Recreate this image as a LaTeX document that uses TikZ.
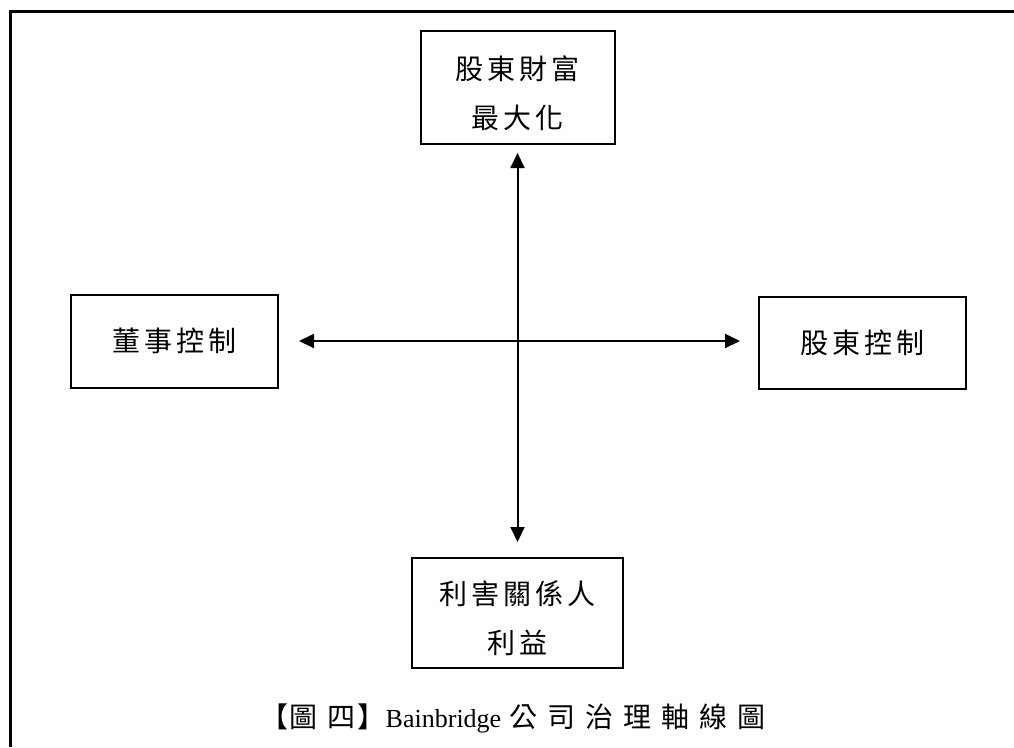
\documentclass[tikz,border=0pt]{standalone}
\usepackage{fontspec}
\setmainfont{Liberation Serif}
\newfontfamily\cjk{Noto Sans CJK TC}
\usetikzlibrary{arrows.meta}
\newcommand{\ls}{\kern4pt}
\newcommand{\cs}{\kern10pt}
\newcommand{\topstrut}{\rule{0pt}{35pt}}
\begin{document}
\begin{tikzpicture}[x=1pt,y=-1pt,
  box/.style={draw,line width=2pt,rectangle,inner sep=0pt,align=center,
    font=\cjk\fontsize{28}{49}\selectfont},
  biarrow/.style={line width=2pt,
    {Triangle[length=15pt,width=14pt]}-{Triangle[length=15pt,width=14pt]}},
  frameline/.style={line width=3pt}]
\useasboundingbox (0,0) rectangle (1014,747);
\fill[white] (0,0) rectangle (1014,747);
\draw[frameline] (10,747) -- (10,11) -- (1014,11);

\node[box,minimum width=194pt,minimum height=113pt] (top) at (517.5,87.5)
  {\topstrut 股\ls 東\ls 財\ls 富\\最\ls 大\ls 化};
\node[box,minimum width=207pt,minimum height=93pt] (left) at (174.5,341)
  {董\ls 事\ls 控\ls 制};
\node[box,minimum width=207pt,minimum height=92pt] (right) at (862.5,343)
  {股\ls 東\ls 控\ls 制};
\node[box,minimum width=211pt,minimum height=110pt] (bottom) at (517.5,613)
  {\topstrut 利\ls 害\ls 關\ls 係\ls 人\\利\ls 益};

\draw[biarrow,shorten <=8pt,shorten >=15pt] (top.south) -- (bottom.north);
\draw[biarrow,shorten <=20pt,shorten >=18pt] (left.east) -- (right.west |- left.east);

\node[inner sep=0pt] (cap) at (513,718)
  {{\cjk\fontsize{28}{30}\selectfont 【\kern1pt 圖\cs 四\kern2pt 】}{\fontsize{26}{30}\selectfont Bainbridge}\kern8pt{\cjk\fontsize{28}{30}\selectfont 公\cs 司\cs 治\cs 理\cs 軸\cs 線\cs 圖}};
\end{tikzpicture}
\end{document}
